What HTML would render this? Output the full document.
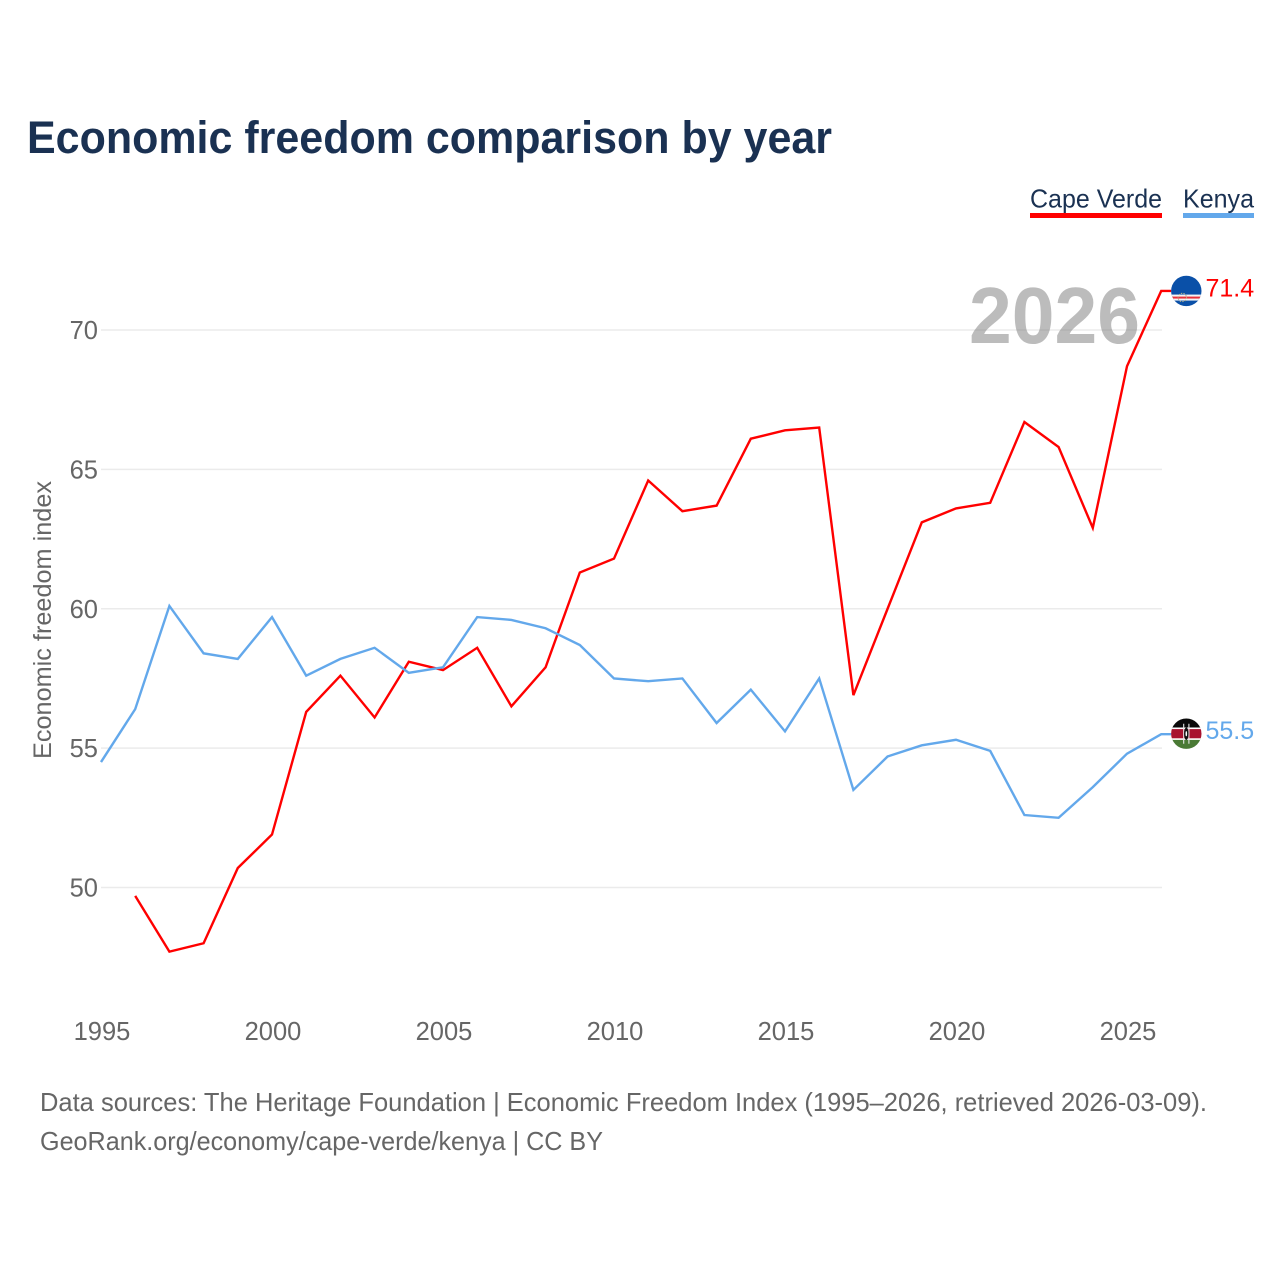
<!DOCTYPE html>
<html lang="en">
<head>
<meta charset="utf-8">
<title>Economic freedom comparison by year</title>
<style>
html,body{margin:0;padding:0;background:#fff;}
svg{display:block;font-family:"Liberation Sans",sans-serif;}
</style>
</head>
<body>
<svg id="chart" xmlns="http://www.w3.org/2000/svg" width="1280" height="1280" viewBox="0 0 1280 1280">
  <rect x="0" y="0" width="1280" height="1280" fill="#ffffff"/>
  <text x="27" y="153" font-size="45" font-weight="700" fill="#1a3152" textLength="805" lengthAdjust="spacingAndGlyphs">Economic freedom comparison by year</text>

  <g>
    <g>
      <text x="1030" y="207.5" font-size="26" fill="#1a3152" textLength="132" lengthAdjust="spacingAndGlyphs">Cape Verde</text>
      <rect x="1030" y="213" width="132" height="5" fill="#ff0000"/>
    </g>
    <g>
      <text x="1183" y="207.5" font-size="26" fill="#1a3152" textLength="71" lengthAdjust="spacingAndGlyphs">Kenya</text>
      <rect x="1183" y="213" width="71" height="5" fill="#63a8eb"/>
    </g>
  </g>

  <g id="grid"></g>
  <g id="y-axis"></g>
  <g id="x-axis"></g>
  <text transform="translate(51,620) rotate(-90)" text-anchor="middle" font-size="25" fill="#666666" textLength="278" lengthAdjust="spacingAndGlyphs">Economic freedom index</text>
  <text x="969" y="343" font-size="80" font-weight="700" fill="#7a7a7a" fill-opacity="0.5" textLength="171" lengthAdjust="spacingAndGlyphs">2026</text>
  <g id="series"></g>
  <g id="ends"></g>

  <text x="40" y="1111" font-size="26" fill="#666666" textLength="1167" lengthAdjust="spacingAndGlyphs">Data sources: The Heritage Foundation | Economic Freedom Index (1995–2026, retrieved 2026-03-09).</text>
  <text x="40" y="1150" font-size="26" fill="#666666" textLength="563" lengthAdjust="spacingAndGlyphs">GeoRank.org/economy/cape-verde/kenya | CC BY</text>
</svg>
<script>
const years = [1995,1996,1997,1998,1999,2000,2001,2002,2003,2004,2005,2006,2007,2008,2009,2010,2011,2012,2013,2014,2015,2016,2017,2018,2019,2020,2021,2022,2023,2024,2025,2026];
const capeVerde = [null,49.7,47.7,48.0,50.7,51.9,56.3,57.6,56.1,58.1,57.8,58.6,56.5,57.9,61.3,61.8,64.6,63.5,63.7,66.1,66.4,66.5,56.9,60.0,63.1,63.6,63.8,66.7,65.8,62.9,68.7,71.4];
const kenya = [54.5,56.4,60.1,58.4,58.2,59.7,57.6,58.2,58.6,57.7,57.9,59.7,59.6,59.3,58.7,57.5,57.4,57.5,55.9,57.1,55.6,57.5,53.5,54.7,55.1,55.3,54.9,52.6,52.5,53.6,54.8,55.5];
const yTickValues = [50,55,60,65,70];
const xTickValues = [1995,2000,2005,2010,2015,2020,2025];

const NS = 'http://www.w3.org/2000/svg';
const xScale = function (year) { return 101 + (year - 1995) * 34.2; };
const yScale = function (value) { return 887.5 - (value - 50) * 27.875; };
const plotLeft = xScale(1995);
const plotRight = xScale(2026);

function make(tag, attrs, parent) {
  const el = document.createElementNS(NS, tag);
  Object.keys(attrs).forEach(function (k) { el.setAttribute(k, attrs[k]); });
  parent.appendChild(el);
  return el;
}

const grid = document.getElementById('grid');
const yAxis = document.getElementById('y-axis');
const xAxis = document.getElementById('x-axis');
const seriesLayer = document.getElementById('series');
const ends = document.getElementById('ends');

yTickValues.forEach(function (v) {
  const line = make('line', {x1: plotLeft, x2: plotRight + 0.8, y1: yScale(v), y2: yScale(v), stroke: '#ebebeb', 'stroke-width': 1.5}, grid);
  
  
  const label = make('text', {x: 98, y: yScale(v) + 9, 'text-anchor': 'end', 'font-size': 25.5, fill: '#666666'}, yAxis);
  
  
  label.textContent = String(v);
});

xTickValues.forEach(function (yr) {
  const label = make('text', {x: xScale(yr) + 1, y: 1040, 'text-anchor': 'middle', 'font-size': 25.5, fill: '#666666'}, xAxis);
  
  
  label.textContent = String(yr);
});

function seriesPoints(values) {
  const pts = [];
  values.forEach(function (v, i) {
    if (v !== null) pts.push(xScale(years[i]).toFixed(2) + ',' + yScale(v).toFixed(2));
  });
  return pts;
}

function lastValue(values) { return values[values.length - 1]; }

const cvPts = seriesPoints(capeVerde);
cvPts.push((plotRight + 10).toFixed(2) + ',' + yScale(lastValue(capeVerde)).toFixed(2));
const cvLine = make('polyline', {points: cvPts.join(' '), fill: 'none', stroke: '#ff0000', 'stroke-width': 2.4, 'stroke-linejoin': 'miter'}, seriesLayer);



const kePts = seriesPoints(kenya);
kePts.push((plotRight + 10).toFixed(2) + ',' + yScale(lastValue(kenya)).toFixed(2));
const keLine = make('polyline', {points: kePts.join(' '), fill: 'none', stroke: '#63a8eb', 'stroke-width': 2.4, 'stroke-linejoin': 'miter'}, seriesLayer);



const defs = make('defs', {}, ends);
const clip = make('clipPath', {id: 'flag-clip'}, defs);
make('circle', {cx: 0, cy: 0, r: 15.2}, clip);

/* Cape Verde end marker */
const cvY = yScale(lastValue(capeVerde));
const cvFlag = make('g', {transform: 'translate(1186.3,' + cvY.toFixed(2) + ')', 'clip-path': 'url(#flag-clip)'}, ends);


make('rect', {x: -16, y: -16, width: 32, height: 32, fill: '#0a50a8'}, cvFlag);
make('rect', {x: -16, y: 3.6, width: 32, height: 6, fill: '#f4f4f4'}, cvFlag);
make('rect', {x: -16, y: 5.6, width: 32, height: 2, fill: '#e8303a'}, cvFlag);
make('circle', {cx: -4, cy: 6.5, r: 4.2, fill: 'none', stroke: '#b9b48a', 'stroke-width': 1, 'stroke-dasharray': '1.4 1.2'}, cvFlag);

const cvLabel = make('text', {x: 1205.5, y: cvY + 5.5, 'font-size': 25, fill: '#ff0000'}, ends);


cvLabel.textContent = lastValue(capeVerde).toFixed(1);

/* Kenya end marker */
const keY = yScale(lastValue(kenya));
const keFlag = make('g', {transform: 'translate(1186.3,' + (keY - 0.5).toFixed(2) + ')', 'clip-path': 'url(#flag-clip)'}, ends);


make('rect', {x: -16, y: -16, width: 32, height: 11, fill: '#0a0a0a'}, keFlag);
make('rect', {x: -16, y: -5, width: 32, height: 10, fill: '#a8122f'}, keFlag);
make('rect', {x: -16, y: 5, width: 32, height: 11, fill: '#4a7a35'}, keFlag);
make('rect', {x: -16, y: -6.2, width: 32, height: 1.6, fill: '#ffffff'}, keFlag);
make('rect', {x: -16, y: 4.6, width: 32, height: 1.6, fill: '#ffffff'}, keFlag);
make('line', {x1: -2.6, y1: -10, x2: -2.6, y2: 10, stroke: '#e6e6e6', 'stroke-width': 1.1}, keFlag);
make('line', {x1: 2.6, y1: -10, x2: 2.6, y2: 10, stroke: '#e6e6e6', 'stroke-width': 1.1}, keFlag);
make('ellipse', {cx: 0, cy: 0, rx: 2.2, ry: 6.2, fill: '#111111'}, keFlag);
make('ellipse', {cx: 0, cy: 0, rx: 0.8, ry: 2.6, fill: '#ffffff'}, keFlag);

const keLabel = make('text', {x: 1205.5, y: keY + 5, 'font-size': 25, fill: '#63a8eb'}, ends);


keLabel.textContent = lastValue(kenya).toFixed(1);
</script>
</body>
</html>
